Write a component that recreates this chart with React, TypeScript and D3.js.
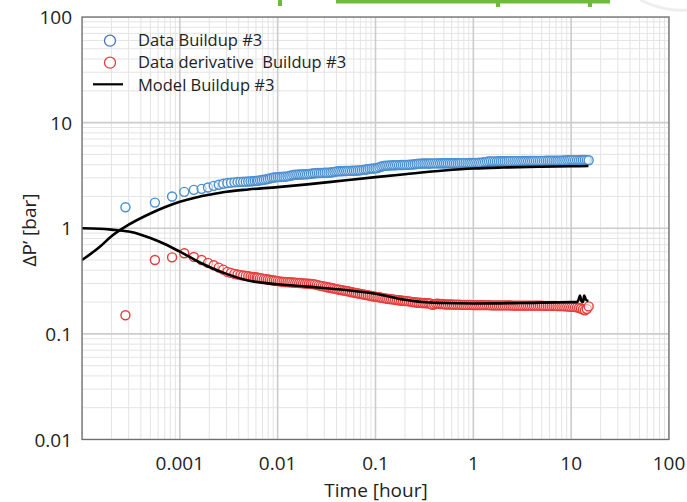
import React from "react";
import * as d3 from "d3";

const W = 687;
const H = 502;

const xTickLabels = ["0.001", "0.01", "0.1", "1", "10", "100"];
const yTickLabels = ["0.01", "0.1", "1", "10", "100"];

const legendLabels = ["Data Buildup #3", "Data derivative  Buildup #3", "Model Buildup #3"];

// sample times (hours)
const dataT = [
  0.000278, 0.000556, 0.000833, 0.00111, 0.00139, 0.00167, 0.00194, 0.00222, 0.0025, 0.00278, 0.00306,
  0.00333, 0.00361, 0.00389, 0.00417, 0.00444, 0.00472, 0.005, 0.00528, 0.00556, 0.00583, 0.00611,
  0.0063, 0.0066, 0.0069, 0.00724, 0.00759, 0.00794, 0.00832, 0.00871, 0.00912, 0.00955,
  0.01, 0.01047, 0.01096, 0.01148, 0.01202, 0.01259, 0.01318, 0.0138, 0.01445, 0.01514,
  0.01585, 0.0166, 0.01738, 0.0182, 0.01905, 0.01995, 0.02089, 0.02188, 0.02291, 0.02399,
  0.02512, 0.0263, 0.02754, 0.02884, 0.0302, 0.03162, 0.03311, 0.03467, 0.03631, 0.03802,
  0.03981, 0.04169, 0.04365, 0.04571, 0.04786, 0.05012, 0.05248, 0.05495, 0.05754, 0.06026,
  0.0631, 0.06607, 0.06918, 0.07244, 0.07586, 0.07943, 0.08318, 0.0871, 0.0912, 0.0955,
  0.1, 0.1047, 0.1096, 0.1148, 0.1202, 0.1259, 0.1318, 0.138, 0.1445, 0.1514,
  0.1585, 0.166, 0.1738, 0.182, 0.1905, 0.1995, 0.2089, 0.2188, 0.2291, 0.2399,
  0.2512, 0.263, 0.2754, 0.2884, 0.302, 0.3162, 0.3311, 0.3467, 0.3631, 0.3802,
  0.3981, 0.4169, 0.4365, 0.4571, 0.4786, 0.5012, 0.5248, 0.5495, 0.5754, 0.6026,
  0.631, 0.6607, 0.6918, 0.7244, 0.7586, 0.7943, 0.8318, 0.871, 0.912, 0.955,
  1.0, 1.047, 1.096, 1.148, 1.202, 1.259, 1.318, 1.38, 1.445, 1.514,
  1.585, 1.66, 1.738, 1.82, 1.905, 1.995, 2.089, 2.188, 2.291, 2.399,
  2.512, 2.63, 2.754, 2.884, 3.02, 3.162, 3.311, 3.467, 3.631, 3.802,
  3.981, 4.169, 4.365, 4.571, 4.786, 5.012, 5.248, 5.495, 5.754, 6.026,
  6.31, 6.607, 6.918, 7.244, 7.586, 7.943, 8.318, 8.71, 9.12, 9.55,
  10.0, 10.47, 10.96, 11.48, 12.02, 12.59, 13.18, 13.8, 14.45, 15.1,
];

const dataBuildup = [
  1.58, 1.75, 2.0, 2.21, 2.31, 2.36, 2.43, 2.52, 2.58, 2.64, 2.68,
  2.7, 2.72, 2.74, 2.75, 2.76, 2.76, 2.77, 2.78, 2.79, 2.8, 2.81,
  2.82, 2.84, 2.86, 2.88, 2.9, 2.93, 2.96, 3.0, 3.02, 3.03,
  3.05, 3.06, 3.06, 3.07, 3.08, 3.1, 3.13, 3.16, 3.19, 3.21,
  3.22, 3.23, 3.23, 3.24, 3.24, 3.25, 3.26, 3.28, 3.3, 3.32,
  3.33, 3.33, 3.34, 3.34, 3.35, 3.35, 3.36, 3.37, 3.39, 3.42,
  3.45, 3.46, 3.47, 3.47, 3.48, 3.48, 3.49, 3.49, 3.5, 3.5,
  3.51, 3.52, 3.53, 3.55, 3.57, 3.6, 3.62, 3.65, 3.67, 3.68,
  3.69, 3.72, 3.78, 3.84, 3.88, 3.91, 3.92, 3.93, 3.94, 3.95,
  3.95, 3.96, 3.96, 3.97, 3.97, 3.98, 3.98, 3.99, 4.0, 4.02,
  4.04, 4.06, 4.08, 4.09, 4.1, 4.1, 4.1, 4.1, 4.1, 4.11,
  4.11, 4.11, 4.11, 4.12, 4.12, 4.12, 4.12, 4.12, 4.12, 4.13,
  4.13, 4.13, 4.13, 4.13, 4.14, 4.14, 4.14, 4.14, 4.15, 4.15,
  4.15, 4.16, 4.16, 4.17, 4.18, 4.2, 4.23, 4.26, 4.28, 4.3,
  4.3, 4.3, 4.3, 4.31, 4.31, 4.31, 4.31, 4.31, 4.31, 4.32,
  4.32, 4.32, 4.32, 4.32, 4.32, 4.33, 4.33, 4.33, 4.33, 4.33,
  4.33, 4.34, 4.34, 4.34, 4.34, 4.34, 4.34, 4.35, 4.35, 4.35,
  4.35, 4.35, 4.35, 4.36, 4.36, 4.37, 4.38, 4.39, 4.4, 4.41,
  4.42, 4.42, 4.42, 4.42, 4.42, 4.43, 4.43, 4.43, 4.42, 4.4,
];

const dataDerivative = [
  0.15, 0.5, 0.53, 0.58, 0.535, 0.5, 0.47, 0.446, 0.424, 0.406, 0.386,
  0.378, 0.37, 0.365, 0.36, 0.357, 0.354, 0.351, 0.348, 0.346, 0.344, 0.342,
  0.34, 0.337, 0.335, 0.332, 0.33, 0.327, 0.325, 0.322, 0.32, 0.318,
  0.316, 0.314, 0.312, 0.311, 0.31, 0.309, 0.308, 0.307, 0.306, 0.305,
  0.304, 0.303, 0.302, 0.301, 0.3, 0.299, 0.298, 0.297, 0.296, 0.294,
  0.291, 0.288, 0.285, 0.283, 0.28, 0.278, 0.275, 0.273, 0.27, 0.268,
  0.265, 0.263, 0.261, 0.259, 0.257, 0.255, 0.253, 0.25, 0.248, 0.246,
  0.244, 0.242, 0.24, 0.238, 0.236, 0.234, 0.232, 0.23, 0.228, 0.226,
  0.225, 0.223, 0.222, 0.22, 0.218, 0.217, 0.215, 0.214, 0.213, 0.212,
  0.21, 0.209, 0.208, 0.207, 0.206, 0.205, 0.204, 0.203, 0.202, 0.2,
  0.199, 0.198, 0.197, 0.197, 0.196, 0.196, 0.195, 0.195, 0.194, 0.188,
  0.19, 0.193, 0.193, 0.192, 0.192, 0.191, 0.19, 0.19, 0.19, 0.19,
  0.189, 0.189, 0.189, 0.189, 0.188, 0.188, 0.188, 0.188, 0.188, 0.188,
  0.187, 0.187, 0.187, 0.187, 0.187, 0.187, 0.187, 0.187, 0.187, 0.186,
  0.186, 0.186, 0.186, 0.186, 0.186, 0.186, 0.186, 0.186, 0.186, 0.186,
  0.185, 0.185, 0.185, 0.185, 0.185, 0.185, 0.185, 0.185, 0.185, 0.185,
  0.185, 0.185, 0.185, 0.185, 0.185, 0.185, 0.184, 0.184, 0.184, 0.184,
  0.184, 0.184, 0.184, 0.183, 0.183, 0.183, 0.183, 0.182, 0.182, 0.181,
  0.18, 0.18, 0.179, 0.178, 0.176, 0.174, 0.17, 0.167, 0.172, 0.182,
];

const modelBuildupT = [1e-4, 1.5e-4, 2e-4, 3e-4, 5e-4, 7e-4, 1e-3, 1.5e-3, 2e-3, 3e-3, 5e-3, 0.01, 0.02, 0.05, 0.1, 0.2, 0.5, 1, 2, 5, 10, 15];
const modelBuildupV = [0.5, 0.66, 0.84, 1.08, 1.38, 1.58, 1.78, 1.97, 2.08, 2.22, 2.33, 2.45, 2.6, 2.85, 3.05, 3.25, 3.52, 3.68, 3.76, 3.82, 3.86, 3.88];

const modelDerivT = [1e-4, 1.5e-4, 2e-4, 3e-4, 4e-4, 5e-4, 7e-4, 1e-3, 1.5e-3, 2e-3, 3e-3, 5e-3, 0.01, 0.02, 0.05, 0.1, 0.2, 0.3, 0.5, 1, 3, 10, 11.5, 12, 12.3, 12.7, 13.2, 13.6, 14.2, 15];
const modelDerivV = [1.0, 0.99, 0.97, 0.93, 0.87, 0.81, 0.71, 0.6, 0.49, 0.43, 0.37, 0.32, 0.295, 0.28, 0.26, 0.24, 0.21, 0.2, 0.196, 0.194, 0.196, 0.2, 0.2, 0.215, 0.23, 0.205, 0.2, 0.23, 0.21, 0.205];

const BLUE = "#4a8fd0";
const RED = "#e63c3c";
const FONT = "'Open Sans', 'Noto Sans', sans-serif";

export default function App() {
  const left = 82, right = 669, top = 17, bottom = 439.5;
  const x = d3.scaleLog().domain([1e-4, 100]).range([left, right]);
  const y = d3.scaleLog().domain([0.01, 100]).range([bottom, top]);

  const minorX: number[] = [];
  for (let e = -4; e < 2; e++) for (let k = 2; k <= 9; k++) minorX.push(k * Math.pow(10, e));
  const minorY: number[] = [];
  for (let e = -2; e < 2; e++) for (let k = 2; k <= 9; k++) minorY.push(k * Math.pow(10, e));
  const majorX = [1e-4, 1e-3, 1e-2, 1e-1, 1, 10, 100];
  const majorY = [0.01, 0.1, 1, 10, 100];

  const line = d3
    .line<[number, number]>()
    .x((d) => x(d[0]))
    .y((d) => y(d[1]))
    .curve(d3.curveMonotoneX);

  const mb = line(modelBuildupT.map((t, i) => [t, modelBuildupV[i]]) as [number, number][]) || "";
  const md = line(modelDerivT.map((t, i) => [t, modelDerivV[i]]) as [number, number][]) || "";

  return (
    <svg width={W} height={H} style={{ position: "absolute", left: 0, top: 0, background: "#fff" }} fontFamily={FONT}>
      <rect x={0} y={0} width={W} height={H} fill="#fff" />
      {/* slide remnants at top */}
      <rect x={278} y={0} width={4} height={6} fill="#6cbb3a" />
      <rect x={336} y={0} width={274} height={3.5} fill="#6cbb3a" />
      <rect x={496} y={0} width={4} height={7} fill="#6cbb3a" />
      <rect x={588} y={0} width={4} height={7} fill="#6cbb3a" />
      <path d="M640,0 Q665,12 687,10" fill="none" stroke="#eeeeee" strokeWidth={3} />

      <defs>
        <clipPath id="plotclip">
          <rect x={left} y={top} width={right - left} height={bottom - top} />
        </clipPath>
      </defs>
      <g clipPath="url(#plotclip)">
        {minorX.map((v, i) => (
          <line key={"mx" + i} x1={x(v)} x2={x(v)} y1={top} y2={bottom} stroke="#e4e4e4" strokeWidth={1} />
        ))}
        {minorY.map((v, i) => (
          <line key={"my" + i} x1={left} x2={right} y1={y(v)} y2={y(v)} stroke="#e4e4e4" strokeWidth={1} />
        ))}
        {majorX.map((v, i) => (
          <line key={"Mx" + i} x1={x(v)} x2={x(v)} y1={top} y2={bottom} stroke="#cccccc" strokeWidth={1.6} />
        ))}
        {majorY.map((v, i) => (
          <line key={"My" + i} x1={left} x2={right} y1={y(v)} y2={y(v)} stroke="#cccccc" strokeWidth={1.6} />
        ))}
      </g>

      {dataT.map((t, i) => (
        <circle key={"b" + i} cx={x(t)} cy={y(dataBuildup[i])} r={4.5} fill="#fff" fillOpacity={0.55} stroke={BLUE} strokeWidth={1.4} />
      ))}
      {dataT.map((t, i) => (
        <circle key={"r" + i} cx={x(t)} cy={y(dataDerivative[i])} r={4.5} fill="#fff" fillOpacity={0.55} stroke={RED} strokeWidth={1.4} />
      ))}

      <g clipPath="url(#plotclip)">
        <path d={mb} fill="none" stroke="#000" strokeWidth={2.6} />
        <path d={md} fill="none" stroke="#000" strokeWidth={2.6} />
      </g>

      <rect x={left} y={top} width={right - left} height={bottom - top} fill="none" stroke="#6e6e6e" strokeWidth={1.3} />

      {/* legend */}
      <circle cx={110} cy={40.7} r={5.5} fill="#fff" stroke="#4472c4" strokeWidth={1.3} />
      <text x={138} y={46} fontSize={16.5} fill="#222">{legendLabels[0]}</text>
      <circle cx={110} cy={62.7} r={5.5} fill="#fff" stroke={RED} strokeWidth={1.3} />
      <text x={138} y={68} fontSize={16.5} fill="#222" style={{ whiteSpace: "pre" }}>{legendLabels[1]}</text>
      <line x1={93} x2={123} y1={84.3} y2={84.3} stroke="#000" strokeWidth={2.2} />
      <text x={138} y={90.5} fontSize={16.5} fill="#222">{legendLabels[2]}</text>

      {/* y ticks */}
      {majorY.map((v, i) => (
        <text key={"yt" + i} x={72} y={y(v) + 7} fontSize={19} textAnchor="end" fill="#222">
          {yTickLabels[i]}
        </text>
      ))}
      {/* x ticks */}
      {majorX.slice(1).map((v, i) => (
        <text key={"xt" + i} x={x(v)} y={470} fontSize={19} textAnchor="middle" fill="#222">
          {xTickLabels[i]}
        </text>
      ))}
      <text x={376} y={497} fontSize={19} textAnchor="middle" fill="#222">Time [hour]</text>
      <text transform="translate(36,230) rotate(-90)" fontSize={19} textAnchor="middle" fill="#222">ΔP’ [bar]</text>
    </svg>
  );
}
